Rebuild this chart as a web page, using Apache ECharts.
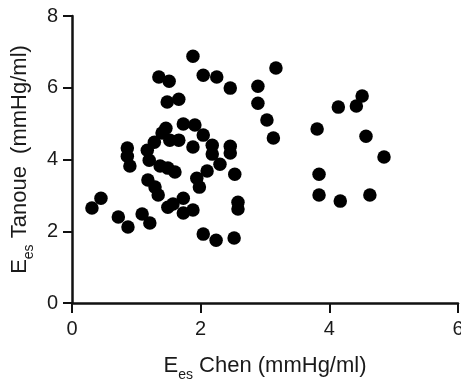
<!DOCTYPE html>
<html>
<head>
<meta charset="utf-8">
<script src="https://cdn.jsdelivr.net/npm/echarts@6/dist/echarts.min.js"></script>
<style>
html,body{margin:0;padding:0;background:#fff;}
#chart{width:461px;height:385px;}
</style>
</head>
<body>
<div id="chart"></div>
<script>
// Ees Chen (x) values
const chenValues = [
  0.86, 0.86, 0.90, 1.17, 1.20, 1.28, 1.40, 1.46, 1.52, 1.66,
  1.73, 1.91, 2.04, 1.88, 2.18, 2.18, 2.46, 2.46, 2.30, 2.53,
  2.10, 1.94, 1.98, 1.60, 1.37, 1.49, 1.18, 1.29, 1.34, 0.45,
  0.31, 0.72, 0.87, 1.09, 1.21, 1.49, 1.57, 1.73, 1.73, 1.88,
  2.58, 2.58, 2.04, 2.24, 2.52,
  1.88, 1.35, 1.51, 2.04, 2.25, 2.46, 1.48, 1.66, 2.89, 2.89,
  3.17, 3.03, 3.13,
  3.81, 4.14, 4.42, 4.51, 4.57, 4.85, 3.84, 3.84, 4.17, 4.63
];
// Ees Tanoue (y) values
const tanoueValues = [
  4.32, 4.09, 3.82, 4.26, 3.98, 4.48, 4.74, 4.87, 4.54, 4.54,
  4.99, 4.96, 4.68, 4.35, 4.40, 4.15, 4.37, 4.18, 3.87, 3.59,
  3.68, 3.48, 3.23, 3.65, 3.82, 3.76, 3.43, 3.23, 3.01, 2.92,
  2.65, 2.40, 2.12, 2.48, 2.23, 2.67, 2.76, 2.92, 2.51, 2.59,
  2.81, 2.62, 1.92, 1.75, 1.81,
  6.88, 6.30, 6.18, 6.35, 6.30, 5.99, 5.60, 5.68, 6.04, 5.57,
  6.55, 5.10, 4.60,
  4.85, 5.46, 5.49, 5.77, 4.65, 4.07, 3.59, 3.01, 2.84, 3.01
];
const xTicks = [0, 2, 4, 6];
const yTicks = [0, 2, 4, 6, 8];

const points = chenValues.map((x, i) => [x, tanoueValues[i]]);
const FONT = "'Liberation Sans', Arial, sans-serif";
const axisColor = '#111';
const textColor = '#1a1a1a';

const richName = {
  b: {fontFamily: FONT, fontSize: 22, color: textColor, lineHeight: 26, verticalAlign: 'bottom'},
  s: {fontFamily: FONT, fontSize: 14, color: textColor, lineHeight: 26, verticalAlign: 'bottom', padding: [0, 0, -5, 0]}
};

const chart = echarts.init(document.getElementById('chart'), null, {renderer: 'canvas'});
chart.setOption({
  animation: false,
  backgroundColor: '#fff',
  grid: {left: 72, right: 3, top: 16, bottom: 82, containLabel: false, outerBoundsMode: 'none'},
  xAxis: {
    type: 'value',
    min: xTicks[0], max: xTicks[xTicks.length - 1], interval: 2,
    name: '{b|E}{s|es}{b| Chen (mmHg/ml)}',
    nameLocation: 'middle',
    nameGap: 48,
    nameTextStyle: {rich: richName},
    axisLine: {show: true, onZero: false, lineStyle: {color: axisColor, width: 2.5}},
    axisTick: {show: true, inside: false, length: 10, lineStyle: {color: axisColor, width: 2}},
    axisLabel: {margin: 16, fontFamily: FONT, fontSize: 20, color: textColor,
      formatter: v => xTicks.includes(v) ? String(v) : ''},
    splitLine: {show: false}
  },
  yAxis: {
    type: 'value',
    min: yTicks[0], max: yTicks[yTicks.length - 1], interval: 2,
    name: '{b|E}{s|es}{b| Tanoue  (mmHg/ml)}',
    nameLocation: 'middle',
    nameGap: 34,
    nameRotate: 90,
    nameTextStyle: {rich: richName},
    axisLine: {show: true, onZero: false, lineStyle: {color: axisColor, width: 2.5}},
    axisTick: {show: true, inside: false, length: 9, lineStyle: {color: axisColor, width: 2}},
    axisLabel: {margin: 14, fontFamily: FONT, fontSize: 20, color: textColor,
      formatter: v => yTicks.includes(v) ? String(v) : ''},
    splitLine: {show: false}
  },
  series: [{
    type: 'scatter',
    data: points,
    symbol: 'circle',
    symbolSize: 13.5,
    itemStyle: {color: '#000', opacity: 1},
    clip: false
  }]
});
</script>
</body>
</html>
